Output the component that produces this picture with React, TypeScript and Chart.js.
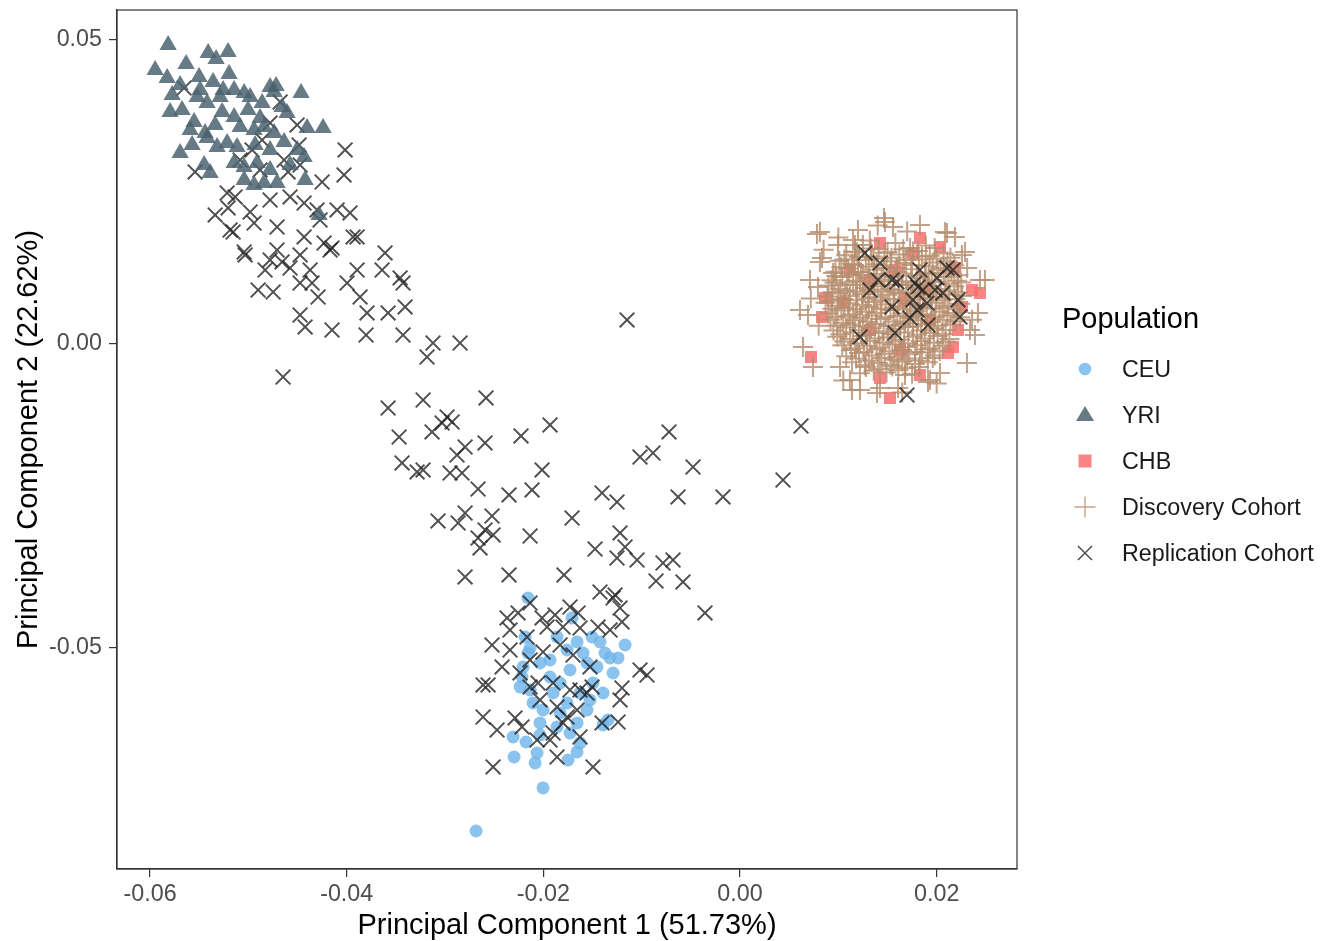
import React, { useEffect, useRef } from 'react';
import { Chart, registerables } from 'chart.js';

Chart.register(...registerables);

// ---- Data (PC1, PC2) ----
const xTickValues = [-0.06, -0.04, -0.02, 0, 0.02];
const yTickValues = [-0.05, 0, 0.05];
const xLimits = [-0.06336, 0.02817];
const yLimits = [-0.08635, 0.05493];

const legendTitle = 'Population';
const legendLabels = ['CEU', 'YRI', 'CHB', 'Discovery Cohort', 'Replication Cohort'];
const xAxisTitle = 'Principal Component 1 (51.73%)';
const yAxisTitle = 'Principal Component 2 (22.62%)';

const ceuPoints: number[][] = [
  [-0.02156, -0.04178], [-0.02186, -0.04819], [-0.02135, -0.05000], [-0.01861, -0.04819], [-0.01708, -0.04506],
  [-0.01657, -0.04901], [-0.01596, -0.05082], [-0.01505, -0.04819], [-0.01424, -0.04901], [-0.01373, -0.05082],
  [-0.01322, -0.05164], [-0.01240, -0.05164], [-0.01169, -0.04951], [-0.01291, -0.05411], [-0.01454, -0.05312],
  [-0.01393, -0.05740], [-0.01342, -0.06184], [-0.01393, -0.06266], [-0.01657, -0.06710], [-0.01749, -0.06842],
  [-0.02064, -0.06727], [-0.02084, -0.06891], [-0.02298, -0.06793], [-0.02308, -0.06464], [-0.02176, -0.06546],
  [-0.02003, -0.07302], [-0.02684, -0.08010], [-0.02217, -0.05477], [-0.02135, -0.05691], [-0.02105, -0.05904],
  [-0.02003, -0.06020], [-0.01901, -0.05740], [-0.01830, -0.05576], [-0.01729, -0.05362], [-0.02034, -0.05247],
  [-0.01932, -0.05197], [-0.02034, -0.06233], [-0.01861, -0.06299], [-0.01729, -0.06398], [-0.01627, -0.06562],
  [-0.01556, -0.06020], [-0.01627, -0.05740], [-0.02206, -0.05312], [-0.02237, -0.05641], [-0.01932, -0.05477],
  [-0.01759, -0.05904], [-0.01830, -0.06069], [-0.01657, -0.06233], [-0.02034, -0.06431], [-0.02156, -0.05082],
  [-0.01759, -0.05033], [-0.01556, -0.05247], [-0.01495, -0.05576], [-0.01525, -0.05855],
];

const yriPoints: number[][] = [
  [-0.05816, 0.04918], [-0.05948, 0.04506], [-0.05826, 0.04375], [-0.05633, 0.04605], [-0.05409, 0.04786],
  [-0.05328, 0.04687], [-0.05206, 0.04803], [-0.05196, 0.04441], [-0.05501, 0.04391], [-0.05694, 0.04260],
  [-0.05775, 0.04095], [-0.05491, 0.04178], [-0.05257, 0.04178], [-0.04779, 0.04227], [-0.04718, 0.04243],
  [-0.04464, 0.04128], [-0.04403, 0.03553], [-0.04240, 0.03553], [-0.05694, 0.03141], [-0.05572, 0.03273],
  [-0.05450, 0.02944], [-0.05389, 0.02812], [-0.04423, 0.02697], [-0.04281, 0.02122], [-0.05796, 0.03816],
  [-0.05674, 0.03849], [-0.05552, 0.03651], [-0.05521, 0.04062], [-0.05420, 0.03964], [-0.05287, 0.04062],
  [-0.05145, 0.04178], [-0.05043, 0.04128], [-0.04982, 0.04062], [-0.04860, 0.03964], [-0.04738, 0.04145],
  [-0.04657, 0.03898], [-0.04606, 0.03799], [-0.05145, 0.03733], [-0.05084, 0.03569], [-0.04942, 0.03520],
  [-0.04840, 0.03569], [-0.04738, 0.03470], [-0.04637, 0.03322], [-0.04504, 0.03191], [-0.04433, 0.03076],
  [-0.05216, 0.03306], [-0.05115, 0.03240], [-0.05318, 0.03240], [-0.05420, 0.03388], [-0.05338, 0.03602],
  [-0.05145, 0.02977], [-0.05043, 0.02911], [-0.04911, 0.02977], [-0.04779, 0.02862], [-0.04708, 0.02648],
  [-0.05043, 0.02697], [-0.04942, 0.02615], [-0.04840, 0.02648], [-0.05440, 0.03470], [-0.05267, 0.03816],
  [-0.05003, 0.03849], [-0.04881, 0.03717], [-0.04779, 0.03191], [-0.04576, 0.02944], [-0.04931, 0.03273],
  [-0.05592, 0.03520], [-0.05359, 0.04309],
];

const chbPoints: number[][] = [
  [0.01830, 0.01743], [0.01424, 0.01661], [0.02034, 0.01595], [0.02359, 0.00888], [0.00864, 0.00757],
  [0.00834, 0.00444], [0.00722, -0.00214], [0.01424, -0.00559], [0.01525, -0.00888], [0.01830, -0.00510],
  [0.02115, -0.00148], [0.02166, -0.00049], [0.02257, 0.00609], [0.01881, 0.00888], [0.01759, 0.01497],
  [0.01322, 0.01053], [0.01047, 0.00674], [0.02440, 0.00839], [0.02186, 0.01250], [0.02217, 0.00230],
  [0.01576, 0.01217], [0.01678, 0.00724], [0.01932, 0.00395], [0.01322, 0.00230], [0.01118, 0.01217],
  [0.01627, -0.00099],
];

const discoveryPoints: number[][] = [
  // outer ring
  [0.00813, 0.01842], [0.01200, 0.01875], [0.01474, 0.02007], [0.01556, 0.01924], [0.02105, 0.01826],
  [0.02186, 0.01760], [0.02288, 0.01513], [0.02440, 0.01053], [0.02420, 0.00510], [0.02339, 0.00230],
  [0.02308, -0.00312], [0.02034, -0.00477], [0.01912, -0.00625], [0.01607, -0.00724], [0.01393, -0.00806],
  [0.01220, -0.00757], [0.01118, -0.00592], [0.01017, -0.00378], [0.00641, -0.00049], [0.00610, 0.00559],
  [0.00793, 0.00937], [0.00813, 0.01349], [0.00996, 0.01628], [0.01149, 0.01710], [0.00946, 0.01168],
  [0.00742, -0.00378], [0.01139, -0.00757], [0.01424, -0.00724], [0.01678, -0.00510], [0.01932, -0.00592],
  [0.02389, 0.00148], [0.02491, 0.01053], [0.02257, 0.01464], [0.02084, 0.01842], [0.01464, 0.02072],
  [0.01830, 0.01957], [0.00783, 0.01809], [0.00834, 0.01414], [0.00712, 0.01053], [0.00691, 0.00477],
  [0.01169, 0.01628], [0.01200, 0.01184],
  [0.0085, 0.0155], [0.0080, 0.0030], [0.0072, 0.0075], [0.0231, 0.0125], [0.0236, 0.0040], [0.0105, -0.0060],
  [0.0200, -0.0065], [0.0165, -0.0080], [0.0140, 0.0195], [0.0170, 0.0185], [0.0100, 0.0175],
  // dense core
  [0.0125, 0.0163], [0.0141, 0.0156], [0.0158, 0.0166], [0.0173, 0.0158], [0.0189, 0.0162], [0.0132, 0.0170],
  [0.0108, 0.0146], [0.0119, 0.0151], [0.0134, 0.0144], [0.0147, 0.0150], [0.0162, 0.0147], [0.0176, 0.0152],
  [0.0193, 0.0145], [0.0207, 0.0149],
  [0.0101, 0.0137], [0.0114, 0.0132], [0.0128, 0.0138], [0.0139, 0.0131], [0.0153, 0.0136], [0.0167, 0.0133],
  [0.0182, 0.0139], [0.0196, 0.0134], [0.0211, 0.0136],
  [0.0097, 0.0119], [0.0110, 0.0124], [0.0123, 0.0118], [0.0136, 0.0122], [0.0149, 0.0125], [0.0160, 0.0119],
  [0.0174, 0.0123], [0.0188, 0.0117], [0.0201, 0.0122], [0.0215, 0.0120],
  [0.0093, 0.0105], [0.0104, 0.0110], [0.0118, 0.0104], [0.0131, 0.0109], [0.0144, 0.0106], [0.0157, 0.0111],
  [0.0169, 0.0103], [0.0183, 0.0108], [0.0195, 0.0105], [0.0209, 0.0110], [0.0221, 0.0104],
  [0.0090, 0.0096], [0.0102, 0.0091], [0.0115, 0.0097], [0.0127, 0.0092], [0.0140, 0.0095], [0.0152, 0.0090],
  [0.0165, 0.0097], [0.0178, 0.0093], [0.0191, 0.0096], [0.0204, 0.0091], [0.0218, 0.0095],
  [0.0089, 0.0078], [0.0100, 0.0083], [0.0112, 0.0079], [0.0125, 0.0082], [0.0137, 0.0077], [0.0150, 0.0081],
  [0.0162, 0.0084], [0.0176, 0.0078], [0.0188, 0.0082], [0.0200, 0.0077], [0.0213, 0.0081], [0.0226, 0.0079],
  [0.0087, 0.0068], [0.0099, 0.0063], [0.0111, 0.0067], [0.0124, 0.0064], [0.0136, 0.0069], [0.0148, 0.0065],
  [0.0161, 0.0062], [0.0173, 0.0067], [0.0186, 0.0064], [0.0199, 0.0068], [0.0211, 0.0063], [0.0224, 0.0066],
  [0.0090, 0.0050], [0.0103, 0.0055], [0.0115, 0.0049], [0.0128, 0.0053], [0.0139, 0.0051], [0.0153, 0.0056],
  [0.0166, 0.0050], [0.0179, 0.0054], [0.0190, 0.0049], [0.0203, 0.0053], [0.0217, 0.0051],
  [0.0092, 0.0040], [0.0105, 0.0035], [0.0117, 0.0039], [0.0130, 0.0036], [0.0143, 0.0041], [0.0156, 0.0037],
  [0.0168, 0.0034], [0.0181, 0.0039], [0.0194, 0.0036], [0.0206, 0.0040], [0.0219, 0.0037],
  [0.0095, 0.0022], [0.0108, 0.0027], [0.0121, 0.0023], [0.0133, 0.0026], [0.0146, 0.0021], [0.0158, 0.0025],
  [0.0171, 0.0028], [0.0184, 0.0022], [0.0197, 0.0026], [0.0209, 0.0023],
  [0.0099, 0.0012], [0.0112, 0.0008], [0.0124, 0.0013], [0.0137, 0.0009], [0.0150, 0.0011], [0.0163, 0.0007],
  [0.0176, 0.0012], [0.0188, 0.0009], [0.0201, 0.0013], [0.0213, 0.0008],
  [0.0104, -0.0002], [0.0117, -0.0007], [0.0129, -0.0003], [0.0142, -0.0006], [0.0155, -0.0001], [0.0167, -0.0005],
  [0.0180, -0.0002], [0.0193, -0.0007], [0.0206, -0.0003],
  [0.0108, -0.0020], [0.0121, -0.0015], [0.0134, -0.0019], [0.0147, -0.0016], [0.0160, -0.0021], [0.0172, -0.0017],
  [0.0185, -0.0014], [0.0198, -0.0019],
  [0.0114, -0.0030], [0.0127, -0.0035], [0.0140, -0.0031], [0.0153, -0.0034], [0.0165, -0.0029], [0.0178, -0.0033],
  [0.0191, -0.0030],
  [0.0122, -0.0048], [0.0136, -0.0044], [0.0149, -0.0047], [0.0161, -0.0043], [0.0175, -0.0049],
  // dense core, second pass
  [0.0117, 0.0152], [0.0133, 0.0157], [0.0150, 0.0151], [0.0166, 0.0156], [0.0181, 0.0153], [0.0198, 0.0158],
  [0.0106, 0.0139], [0.0121, 0.0143], [0.0136, 0.0140], [0.0154, 0.0142], [0.0169, 0.0138], [0.0185, 0.0144],
  [0.0200, 0.0140], [0.0214, 0.0142],
  [0.0103, 0.0126], [0.0116, 0.0130], [0.0131, 0.0127], [0.0146, 0.0129], [0.0159, 0.0125], [0.0175, 0.0130],
  [0.0189, 0.0128], [0.0204, 0.0125], [0.0218, 0.0129],
  [0.0098, 0.0112], [0.0111, 0.0116], [0.0125, 0.0113], [0.0139, 0.0115], [0.0151, 0.0112], [0.0165, 0.0116],
  [0.0180, 0.0113], [0.0192, 0.0115], [0.0207, 0.0117], [0.0222, 0.0113],
  [0.0096, 0.0101], [0.0109, 0.0098], [0.0122, 0.0102], [0.0135, 0.0099], [0.0147, 0.0103], [0.0161, 0.0098],
  [0.0174, 0.0101], [0.0187, 0.0099], [0.0198, 0.0102], [0.0212, 0.0099], [0.0225, 0.0101],
  [0.0094, 0.0085], [0.0107, 0.0088], [0.0119, 0.0086], [0.0132, 0.0089], [0.0145, 0.0086], [0.0157, 0.0088],
  [0.0171, 0.0085], [0.0183, 0.0089], [0.0196, 0.0086], [0.0209, 0.0088], [0.0222, 0.0085],
  [0.0093, 0.0071], [0.0105, 0.0074], [0.0118, 0.0072], [0.0130, 0.0075], [0.0143, 0.0072], [0.0156, 0.0074],
  [0.0168, 0.0071], [0.0181, 0.0073], [0.0194, 0.0075], [0.0206, 0.0072], [0.0219, 0.0074],
  [0.0094, 0.0058], [0.0106, 0.0060], [0.0119, 0.0057], [0.0131, 0.0061], [0.0144, 0.0058], [0.0157, 0.0060],
  [0.0170, 0.0057], [0.0183, 0.0061], [0.0195, 0.0058], [0.0208, 0.0060], [0.0221, 0.0057],
  [0.0097, 0.0044], [0.0110, 0.0046], [0.0122, 0.0043], [0.0134, 0.0047], [0.0148, 0.0044], [0.0160, 0.0046],
  [0.0173, 0.0043], [0.0185, 0.0046], [0.0198, 0.0044], [0.0211, 0.0047], [0.0224, 0.0044],
  [0.0099, 0.0030], [0.0112, 0.0032], [0.0125, 0.0029], [0.0138, 0.0033], [0.0151, 0.0030], [0.0163, 0.0032],
  [0.0176, 0.0029], [0.0189, 0.0033], [0.0201, 0.0030], [0.0214, 0.0032],
  [0.0102, 0.0016], [0.0115, 0.0019], [0.0128, 0.0015], [0.0141, 0.0018], [0.0154, 0.0016], [0.0167, 0.0019],
  [0.0180, 0.0015], [0.0193, 0.0018], [0.0206, 0.0016],
  [0.0106, 0.0004], [0.0119, 0.0001], [0.0132, 0.0005], [0.0145, 0.0002], [0.0158, 0.0004], [0.0171, 0.0001],
  [0.0184, 0.0005], [0.0197, 0.0002], [0.0209, 0.0004],
  [0.0113, -0.0010], [0.0126, -0.0013], [0.0139, -0.0009], [0.0152, -0.0012], [0.0165, -0.0010], [0.0178, -0.0013],
  [0.0191, -0.0009], [0.0203, -0.0012],
  [0.0118, -0.0024], [0.0131, -0.0027], [0.0144, -0.0023], [0.0157, -0.0026], [0.0170, -0.0024], [0.0183, -0.0027],
  [0.0196, -0.0023],
  [0.0128, -0.0038], [0.0142, -0.0041], [0.0155, -0.0037], [0.0168, -0.0040], [0.0182, -0.0038],
];

const replicationPoints: number[][] = [
  // upper-left (YRI-like)
  [-0.05653, 0.04210], [-0.05542, 0.02829], [-0.04677, 0.03980], [-0.04504, 0.03602], [-0.04484, 0.03273],
  [-0.04016, 0.03191], [-0.04027, 0.02780], [-0.04250, 0.02664], [-0.05216, 0.02483], [-0.05135, 0.02418],
  [-0.04779, 0.02368], [-0.04576, 0.02418], [-0.04433, 0.02319], [-0.04301, 0.02204], [-0.04098, 0.02204],
  [-0.03966, 0.02155], [-0.05186, 0.01875], [-0.04942, 0.01990], [-0.04708, 0.01924], [-0.04433, 0.01760],
  [-0.04230, 0.01661], [-0.03894, 0.01760], [-0.03610, 0.01497], [-0.05043, 0.01513], [-0.04708, 0.01546],
  [-0.04169, 0.01546], [-0.04881, 0.02862], [-0.04637, 0.03026], [-0.04962, 0.03191], [-0.04779, 0.03635],
  [-0.04860, 0.03355], [-0.04596, 0.02829], [-0.04474, 0.02944], [-0.05084, 0.03026], [-0.05206, 0.02237],
  [-0.05155, 0.01842], [-0.05033, 0.01464], [-0.04901, 0.00888], [-0.04748, 0.00855], [-0.04779, 0.01382],
  [-0.04657, 0.01349], [-0.04474, 0.01464], [-0.04352, 0.01003], [-0.04291, 0.00773], [-0.04474, 0.00477],
  [-0.04423, 0.00280], [-0.04149, 0.00230], [-0.04647, -0.00543], [-0.04149, 0.01579], [-0.03996, 0.01003],
  [-0.03864, 0.00773], [-0.03793, 0.00510], [-0.03803, 0.00148], [-0.03579, 0.00510], [-0.03406, 0.00609],
  [-0.03427, 0.00148], [-0.03640, 0.01217], [-0.03457, 0.01086], [-0.03427, 0.01003], [-0.03935, 0.01760],
  [-0.03894, 0.01217], [-0.03122, 0.00016], [-0.03183, -0.00214], [-0.02847, 0.00016], [-0.01149, 0.00395],
  [-0.04576, 0.01250], [-0.04372, 0.01217], [-0.04830, 0.01217], [-0.04271, 0.02039], [-0.04982, 0.02171],
  [-0.05338, 0.02122], [-0.04474, 0.01003],
  // middle
  [-0.03579, -0.01053], [-0.03223, -0.00921], [-0.02583, -0.00888], [-0.03467, -0.01530], [-0.03132, -0.01447],
  [-0.03030, -0.01299], [-0.02928, -0.01283], [-0.02796, -0.01694], [-0.02878, -0.01826], [-0.02593, -0.01628],
  [-0.02227, -0.01513], [-0.01932, -0.01332], [-0.03437, -0.01957], [-0.03284, -0.02105], [-0.03223, -0.02072],
  [-0.02949, -0.02122], [-0.02827, -0.02122], [-0.02664, -0.02385], [-0.02349, -0.02483], [-0.02115, -0.02401],
  [-0.02013, -0.02072], [-0.01403, -0.02451], [-0.01251, -0.02599], [-0.00722, -0.01447], [-0.01017, -0.01859],
  [-0.00885, -0.01793], [-0.00478, -0.02023], [-0.00630, -0.02516], [-0.00173, -0.02516], [-0.03071, -0.02911],
  [-0.02867, -0.02944], [-0.02796, -0.02780], [-0.02522, -0.02829], [-0.02664, -0.03191], [-0.02593, -0.03059],
  [-0.02511, -0.03141], [-0.02644, -0.03355], [-0.02135, -0.03158], [-0.01708, -0.02862], [-0.01220, -0.03108],
  [-0.01474, -0.03372], [-0.01169, -0.03339], [-0.01251, -0.03520], [-0.01047, -0.03553], [-0.00783, -0.03602],
  [-0.00681, -0.03553], [-0.00854, -0.03898], [-0.00580, -0.03914], [-0.02796, -0.03832], [-0.02349, -0.03799],
  [-0.01790, -0.03799], [-0.01424, -0.04079], [-0.01271, -0.04128], [0.00620, -0.01349], [0.00437, -0.02237],
  [-0.00356, -0.04424], [-0.02979, -0.01201],
  // lower (CEU-like)
  [-0.01291, -0.04178], [-0.01220, -0.04342], [-0.02135, -0.04260], [-0.02369, -0.04506], [-0.02257, -0.04424],
  [-0.02013, -0.04506], [-0.01881, -0.04457], [-0.01729, -0.04326], [-0.01647, -0.04424], [-0.02339, -0.04704],
  [-0.02166, -0.04819], [-0.01962, -0.04655], [-0.01800, -0.04655], [-0.01627, -0.04671], [-0.01444, -0.04655],
  [-0.01322, -0.04704], [-0.01200, -0.04572], [-0.02522, -0.04951], [-0.02339, -0.05033], [-0.02135, -0.05197],
  [-0.02003, -0.05066], [-0.01830, -0.04951], [-0.01698, -0.05115], [-0.01525, -0.05312], [-0.01017, -0.05362],
  [-0.00946, -0.05444], [-0.02420, -0.05312], [-0.02237, -0.05411], [-0.02054, -0.05576], [-0.02613, -0.05608],
  [-0.02562, -0.05608], [-0.02135, -0.05641], [-0.01901, -0.05576], [-0.01729, -0.05691], [-0.01627, -0.05691],
  [-0.01556, -0.05740], [-0.01505, -0.05641], [-0.01200, -0.05658], [-0.01220, -0.05855], [-0.02034, -0.05855],
  [-0.01861, -0.05970], [-0.01759, -0.06135], [-0.01657, -0.06020], [-0.02613, -0.06135], [-0.02471, -0.06349],
  [-0.02288, -0.06151], [-0.02217, -0.06299], [-0.02064, -0.06513], [-0.01901, -0.06398], [-0.01800, -0.06233],
  [-0.01627, -0.06464], [-0.01403, -0.06233], [-0.01240, -0.06217], [-0.01861, -0.06793], [-0.02511, -0.06957],
  [-0.01495, -0.06957], [-0.01932, -0.06513],
  // right (CHB-like)
  [0.01271, 0.01497], [0.01424, 0.01332], [0.01403, 0.01053], [0.01322, 0.00888], [0.01546, 0.01053],
  [0.01596, 0.01020], [0.01810, 0.00937], [0.01861, 0.00888], [0.02003, 0.01086], [0.02105, 0.01250],
  [0.02166, 0.01217], [0.02064, 0.00839], [0.02217, 0.00724], [0.02237, 0.00444], [0.01912, 0.00312],
  [0.01800, 0.00559], [0.01729, 0.00428], [0.01759, 0.00724], [0.01546, 0.00609], [0.01576, 0.00181],
  [0.01220, 0.00115], [0.01698, -0.00839], [0.01830, 0.01217], [0.01779, 0.01003], [0.01901, 0.00674],
  [0.01983, 0.00888],
];

// ---- Styles ----
const FONT = '"Liberation Sans", Arial, Helvetica, sans-serif';
const COL_CEU = 'rgba(110,180,235,0.8)';
const COL_YRI = 'rgba(75,100,112,0.85)';
const COL_CHB = 'rgba(248,110,110,0.85)';
const COL_DISC = 'rgba(182,142,110,0.82)';
const COL_REP = 'rgba(35,35,35,0.8)';

const toXY = (arr: number[][]) => arr.map(([x, y]) => ({ x, y }));

const panelBorder = {
  id: 'panelBorder',
  afterDraw(chart: any) {
    const { ctx, chartArea } = chart;
    ctx.save();
    ctx.strokeStyle = '#333333';
    ctx.lineWidth = 1.2;
    ctx.strokeRect(chartArea.left, chartArea.top, chartArea.right - chartArea.left, chartArea.bottom - chartArea.top);
    ctx.restore();
  },
};

const legendPlugin = {
  id: 'ggLegend',
  afterDraw(chart: any) {
    const ctx: CanvasRenderingContext2D = chart.ctx;
    ctx.save();
    ctx.textAlign = 'left';
    ctx.textBaseline = 'alphabetic';
    ctx.fillStyle = '#000000';
    ctx.font = `29px ${FONT}`;
    ctx.fillText(legendTitle, 1062, 328);
    const keyX = 1085;
    const textX = 1122;
    const y0 = 369;
    const step = 46;
    ctx.font = `23.3px ${FONT}`;
    legendLabels.forEach((label, i) => {
      const cy = y0 + i * step;
      ctx.save();
      if (i === 0) {
        ctx.fillStyle = COL_CEU;
        ctx.beginPath();
        ctx.arc(keyX, cy, 6.3, 0, Math.PI * 2);
        ctx.fill();
      } else if (i === 1) {
        ctx.fillStyle = COL_YRI;
        ctx.beginPath();
        ctx.moveTo(keyX, cy - 9);
        ctx.lineTo(keyX + 9, cy + 6);
        ctx.lineTo(keyX - 9, cy + 6);
        ctx.closePath();
        ctx.fill();
      } else if (i === 2) {
        ctx.fillStyle = COL_CHB;
        ctx.fillRect(keyX - 6.5, cy - 6.5, 13, 13);
      } else if (i === 3) {
        ctx.strokeStyle = COL_DISC;
        ctx.lineWidth = 1.4;
        ctx.beginPath();
        ctx.moveTo(keyX - 10.5, cy);
        ctx.lineTo(keyX + 10.5, cy);
        ctx.moveTo(keyX, cy - 10.5);
        ctx.lineTo(keyX, cy + 10.5);
        ctx.stroke();
      } else {
        ctx.strokeStyle = COL_REP;
        ctx.lineWidth = 1.5;
        ctx.beginPath();
        ctx.moveTo(keyX - 7, cy - 7);
        ctx.lineTo(keyX + 7, cy + 7);
        ctx.moveTo(keyX + 7, cy - 7);
        ctx.lineTo(keyX - 7, cy + 7);
        ctx.stroke();
      }
      ctx.restore();
      ctx.fillStyle = '#1a1a1a';
      ctx.fillText(label, textX, cy + 8.4);
    });
    ctx.restore();
  },
};

export default function App() {
  const canvasRef = useRef<HTMLCanvasElement | null>(null);

  useEffect(() => {
    if (!canvasRef.current) return;
    const chart = new Chart(canvasRef.current, {
      type: 'scatter',
      data: {
        datasets: [
          {
            label: 'YRI',
            data: toXY(yriPoints),
            pointStyle: 'triangle',
            pointRadius: 10,
            backgroundColor: COL_YRI,
            borderColor: COL_YRI,
            borderWidth: 0,
            order: 1,
          },
          {
            label: 'Replication Cohort',
            data: toXY(replicationPoints),
            pointStyle: 'crossRot',
            pointRadius: 10.4,
            backgroundColor: COL_REP,
            borderColor: COL_REP,
            borderWidth: 2,
            order: 2,
          },
          {
            label: 'CEU',
            data: toXY(ceuPoints),
            pointStyle: 'circle',
            pointRadius: 6.5,
            backgroundColor: COL_CEU,
            borderColor: COL_CEU,
            borderWidth: 0,
            order: 3,
          },
          {
            label: 'Discovery Cohort',
            data: toXY(discoveryPoints),
            pointStyle: 'cross',
            pointRadius: 10,
            backgroundColor: COL_DISC,
            borderColor: COL_DISC,
            borderWidth: 2,
            order: 4,
          },
          {
            label: 'CHB',
            data: toXY(chbPoints),
            pointStyle: 'rect',
            pointRadius: 8.5,
            backgroundColor: COL_CHB,
            borderColor: COL_CHB,
            borderWidth: 0,
            order: 5,
          },
        ],
      },
      options: {
        animation: false,
        responsive: false,
        devicePixelRatio: 1,
        events: [],
        layout: { autoPadding: false, padding: { left: 0, top: 10, right: 316, bottom: 0 } },
        plugins: { legend: { display: false }, tooltip: { enabled: false } },
        scales: {
          x: {
            type: 'linear',
            position: 'bottom',
            min: xLimits[0],
            max: xLimits[1],
            afterBuildTicks: (scale: any) => {
              scale.ticks = xTickValues.map((v) => ({ value: v }));
            },
            afterFit: (scale: any) => {
              scale.height = 72;
              scale.paddingLeft = 0;
              scale.paddingRight = 0;
            },
            grid: { display: true, drawOnChartArea: false, drawTicks: true, tickLength: 8, color: '#333333', lineWidth: 1.2 },
            border: { display: true, color: '#333333', width: 1.2 },
            ticks: {
              color: '#4d4d4d',
              font: { family: FONT, size: 23.3 },
              padding: 4,
              maxRotation: 0,
              autoSkip: false,
              callback: (v: any) => Number(v).toFixed(2),
            },
            title: {
              display: true,
              text: xAxisTitle,
              color: '#000000',
              font: { family: FONT, size: 29 },
              padding: { top: 0, bottom: -2 },
            },
          },
          y: {
            type: 'linear',
            position: 'left',
            min: yLimits[0],
            max: yLimits[1],
            afterBuildTicks: (scale: any) => {
              scale.ticks = yTickValues.map((v) => ({ value: v }));
            },
            afterFit: (scale: any) => {
              scale.width = 117;
              scale.paddingTop = 0;
              scale.paddingBottom = 0;
            },
            grid: { display: true, drawOnChartArea: false, drawTicks: true, tickLength: 8, color: '#333333', lineWidth: 1.2 },
            border: { display: true, color: '#333333', width: 1.2 },
            ticks: {
              color: '#4d4d4d',
              font: { family: FONT, size: 23.3 },
              padding: 7,
              autoSkip: false,
              callback: (v: any) => Number(v).toFixed(2),
            },
            title: {
              display: true,
              text: yAxisTitle,
              color: '#000000',
              font: { family: FONT, size: 29 },
              padding: { top: 12, bottom: 0 },
            },
          },
        },
      },
      plugins: [panelBorder, legendPlugin],
    } as any);
    return () => chart.destroy();
  }, []);

  return (
    <div style={{ position: 'fixed', left: 0, top: 0, width: 1333, height: 941, background: '#ffffff' }}>
      <canvas ref={canvasRef} width={1333} height={941} style={{ display: 'block', width: 1333, height: 941 }} />
    </div>
  );
}
